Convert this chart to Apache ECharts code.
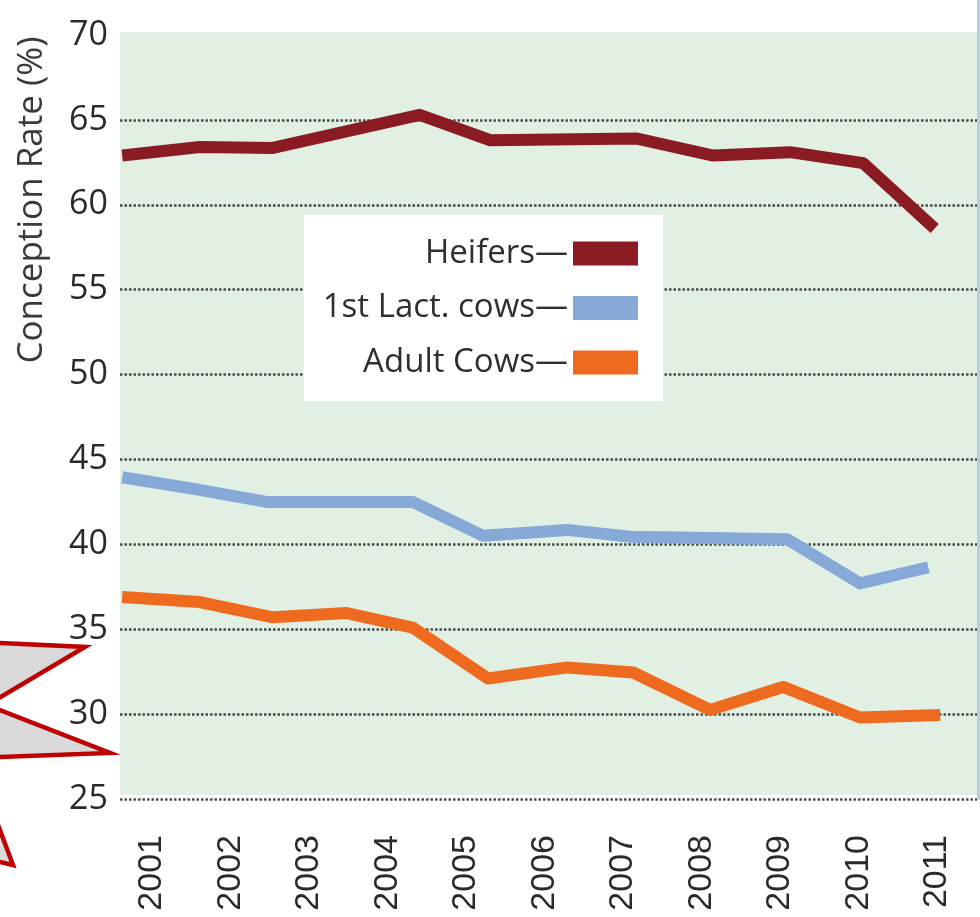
<!DOCTYPE html>
<html>
<head>
<meta charset="utf-8">
<script src="https://cdn.jsdelivr.net/npm/echarts@6/dist/echarts.min.js"></script>
<style>
html,body{margin:0;padding:0;background:#fff;}
#chart{width:980px;height:917px;}
</style>
</head>
<body>
<div id="chart"></div>
<script>
// ---- data ----
const years = ['2001','2002','2003','2004','2005','2006','2007','2008','2009','2010','2011'];
const yTicks = [25, 30, 35, 40, 45, 50, 55, 60, 65, 70];
const seriesNames = ['Heifers', '1st Lact. cows', 'Adult Cows'];
const yAxisTitle = 'Conception Rate (%)';

// vertex positions (fractional year) and conception rate (%)
const heifersYear = [2000.62, 2001.61, 2002.54, 2004.41, 2005.31, 2007.18, 2008.15, 2009.13, 2010.06, 2010.97];
const heifersRate = [62.9, 63.4, 63.35, 65.3, 63.8, 63.9, 62.9, 63.1, 62.45, 58.6];

const lactYear = [2000.62, 2001.55, 2002.46, 2004.32, 2005.22, 2006.29, 2007.09, 2009.09, 2010.02, 2010.89];
const lactRate = [43.95, 43.25, 42.5, 42.5, 40.5, 40.85, 40.45, 40.3, 37.7, 38.65];

const adultYear = [2000.62, 2001.61, 2002.54, 2003.48, 2004.32, 2005.28, 2006.29, 2007.13, 2008.11, 2009.04, 2010.02, 2011.04];
const adultRate = [36.9, 36.6, 35.7, 35.95, 35.1, 32.1, 32.75, 32.45, 30.25, 31.6, 29.8, 29.95];

const colors = ['#8b1b23', '#87a9d8', '#ee6a1e'];

function pairs(xs, ys) { return xs.map((x, i) => [x, ys[i]]); }

const chart = echarts.init(document.getElementById('chart'), null, {renderer: 'canvas'});

const lineSeries = [
  pairs(heifersYear, heifersRate),
  pairs(lactYear, lactRate),
  pairs(adultYear, adultRate)
].map((d, i) => ({
  name: seriesNames[i],
  type: 'line',
  xAxisIndex: 2,
  yAxisIndex: 1,
  data: d,
  symbol: 'none',
  color: colors[i],
  lineStyle: {width: 12, color: colors[i], join: 'round', cap: 'butt'},
  silent: true,
  z: 3
}));

chart.setOption({
  animation: false,
  backgroundColor: '#ffffff',
  graphic: [
    { type: 'rect', z: -10, shape: {x: 120, y: 32, width: 857, height: 763}, style: {fill: '#e2f0e4'} },
    { type: 'rect', z: -10, shape: {x: 977, y: 0, width: 3, height: 800}, style: {fill: '#b9cbea'} },
    { type: 'polygon', z: -5,
      shape: {points: [[-150, 636], [85, 647], [-13, 705], [110, 753], [-27, 758], [13, 865], [-200, 816]]},
      style: {fill: '#d9d9d9', stroke: '#c00000', lineWidth: 4.5, lineJoin: 'miter'} },
    { type: 'text', z: 5, x: 32, y: 200, rotation: Math.PI / 2,
      style: {text: yAxisTitle, fontFamily: 'Open Sans', fontSize: 35, fill: '#3a3a3a',
              align: 'center', verticalAlign: 'middle'} }
  ],
  grid: [
    {left: 120, right: 3, top: 35, bottom: 118},
    {left: 112.75, right: 3.75, top: 35, bottom: 118}
  ],
  legend: {
    data: seriesNames,
    orient: 'vertical',
    align: 'right',
    right: 317,
    top: 215,
    padding: [22, 25, 22, 19],
    itemGap: 21.5,
    itemWidth: 65,
    itemHeight: 24,
    icon: 'rect',
    backgroundColor: '#ffffff',
    selectedMode: false,
    formatter: name => name + '\u2014',
    textStyle: {fontFamily: 'Open Sans', fontSize: 33, color: '#2f2f2f', lineHeight: 30}
  },
  xAxis: [
    {gridIndex: 0, type: 'value', min: 0, max: 1, show: false},
    {gridIndex: 1, type: 'category', data: years, boundaryGap: true, position: 'bottom',
     axisLine: {show: false}, axisTick: {show: false}, splitLine: {show: false},
     axisLabel: {rotate: 90, margin: 36, interval: 0, fontFamily: 'Liberation Sans', fontSize: 34, color: '#2a2a2a'}},
    {gridIndex: 1, type: 'value', min: 2000.5, max: 2011.5, show: false}
  ],
  yAxis: [
    {gridIndex: 0, type: 'value', min: yTicks[0], max: yTicks[yTicks.length - 1], interval: 5,
     axisLine: {show: false}, axisTick: {show: false},
     axisLabel: {margin: 12, fontFamily: 'Open Sans', fontSize: 34, color: '#2a2a2a'},
     splitLine: {show: true, showMaxLine: false, lineStyle: {color: '#4a4a4a', width: 2.5, type: [2.5, 2]}}},
    {gridIndex: 1, type: 'value', min: 25, max: 70, show: false, splitLine: {show: false}}
  ],
  series: lineSeries
});
</script>
</body>
</html>
